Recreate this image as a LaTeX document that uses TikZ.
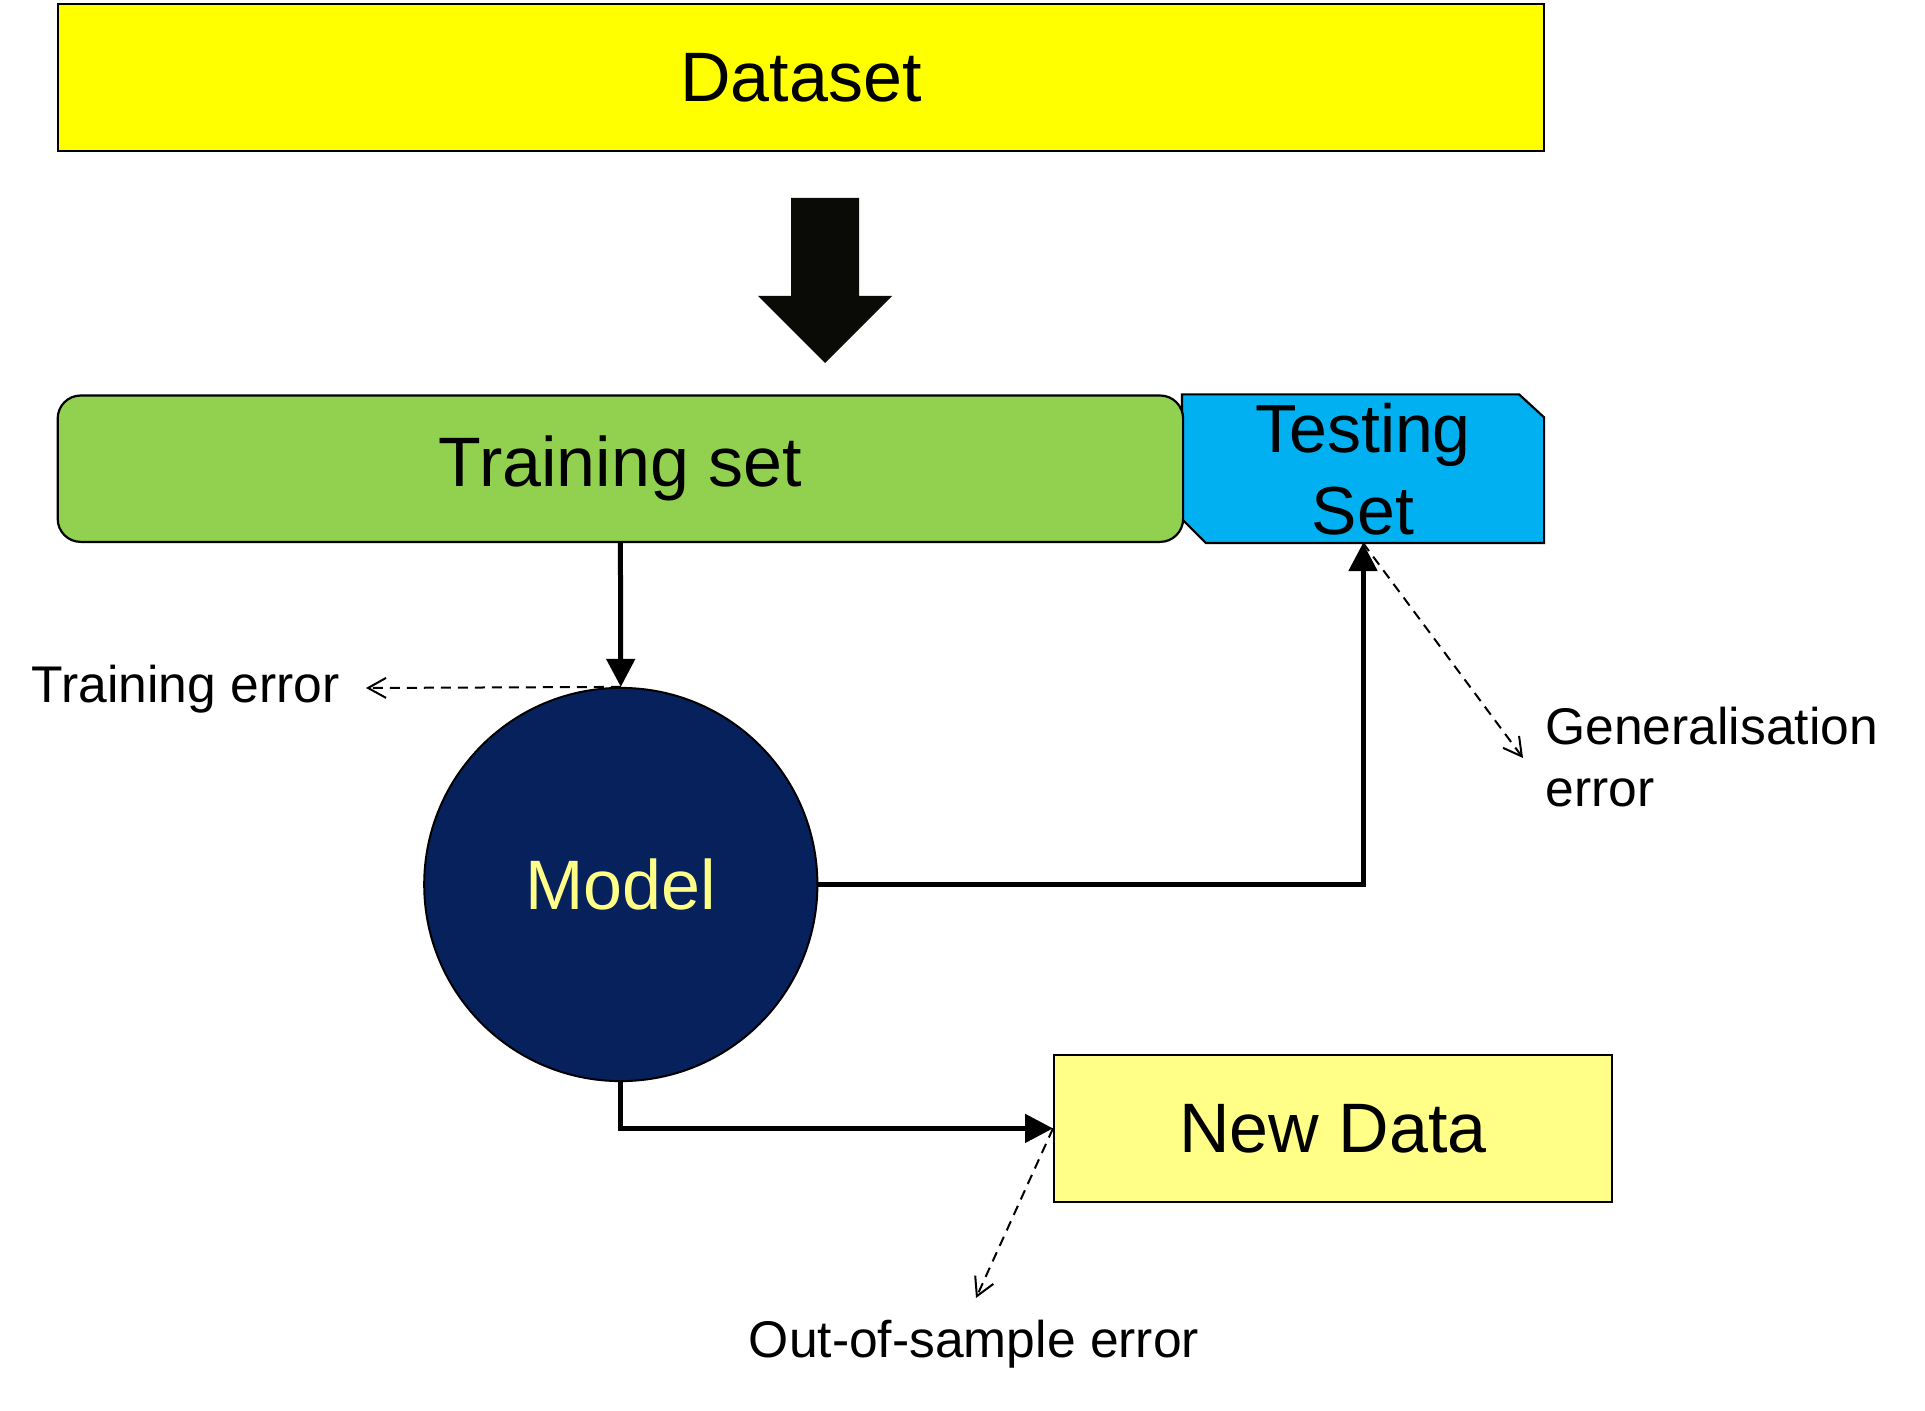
\documentclass[tikz,border=0pt]{standalone}
\usepackage{fontspec}
\setmainfont{Liberation Sans}
\usepackage{tikz}
\usetikzlibrary{arrows.meta}
\usetikzlibrary{backgrounds}

\definecolor{datayellow}{HTML}{FFFF00}
\definecolor{traingreen}{HTML}{92D050}
\definecolor{testblue}{HTML}{00B0F0}
\definecolor{modelnavy}{HTML}{06215C}
\definecolor{paleyellow}{HTML}{FFFF88}
\definecolor{arrowblack}{HTML}{0A0A06}

\begin{document}
\begin{tikzpicture}[x=0.5pt, y=-0.5pt,
    bigtext/.style={font=\fontsize{35}{42}\selectfont},
    smalltext/.style={font=\fontsize{25.8}{31}\selectfont},
    setbox/.style={draw, line width=1.1pt, inner sep=0pt, minimum height=73.2pt, bigtext},
    solidarrow/.style={line width=2.5pt, -{Triangle[length=14pt,width=14pt]}},
    errarrow/.style={line width=1pt, dash pattern=on 5pt off 3.5pt, -{Straight Barb[length=9pt,width=10pt]}}]
    \useasboundingbox (0,0) rectangle (1925,1411);
    \node[setbox, fill=datayellow, minimum width=743.3pt, minimum height=73.7pt] (dataset) at (801,77.4) {Dataset};
    % split arrow
    \fill[arrowblack] (791,198) -- (859,198) -- (859,296) -- (892,296) -- (825,363) -- (758,296) -- (791,296) -- cycle;
    \node[setbox, fill=traingreen, rounded corners=11.5pt, minimum width=562.7pt] (train) at (620.4,468.7) {Training set};
    \node[setbox, draw=none, minimum width=180pt, align=center,
        font=\fontsize{34}{41}\selectfont] (test) at (1363,468.7) {Testing\\Set};
    \begin{scope}[on background layer]
        \filldraw[fill=testblue, line width=1.1pt] (test.north west) -- ([xshift=-12.5pt]test.north east)
            -- ([yshift=-11.5pt]test.north east) -- (test.south east)
            -- ([xshift=12pt]test.south west) -- ([yshift=12pt]test.south west) -- cycle;
    \end{scope}
    \node[circle, draw, line width=1pt, fill=modelnavy, text=paleyellow, minimum size=196.6pt, inner sep=0pt, bigtext] (model) at (620.8,884.5) {Model};
    \node[setbox, fill=paleyellow, minimum width=278.9pt] (newdata) at (1333,1128.4) {New Data};

    \node[smalltext, anchor=base east, inner sep=0pt] (trerr) at (340,702) {Training error};
    \node[smalltext, anchor=north west, inner sep=0pt, align=left] (generr) at (1545,707) {Generalisation\\error};
    \node[smalltext, anchor=base, inner sep=0pt] (ooserr) at (974,1357) {Out-of-sample error};
    \coordinate (trerrtip) at (366,688);
    \coordinate (generrtip) at (1523,758);
    \coordinate (ooserrtip) at (976,1298);

    \draw[solidarrow] (train.south) -- (model.north);
    \draw[solidarrow] (model.east) -| (test.south);
    \draw[solidarrow] (model.south) |- (newdata.west);
    \draw[errarrow] (model.north) -- (trerrtip);
    \draw[errarrow] (test.south) -- (generrtip);
    \draw[errarrow] (newdata.west) -- (ooserrtip);
\end{tikzpicture}
\end{document}
